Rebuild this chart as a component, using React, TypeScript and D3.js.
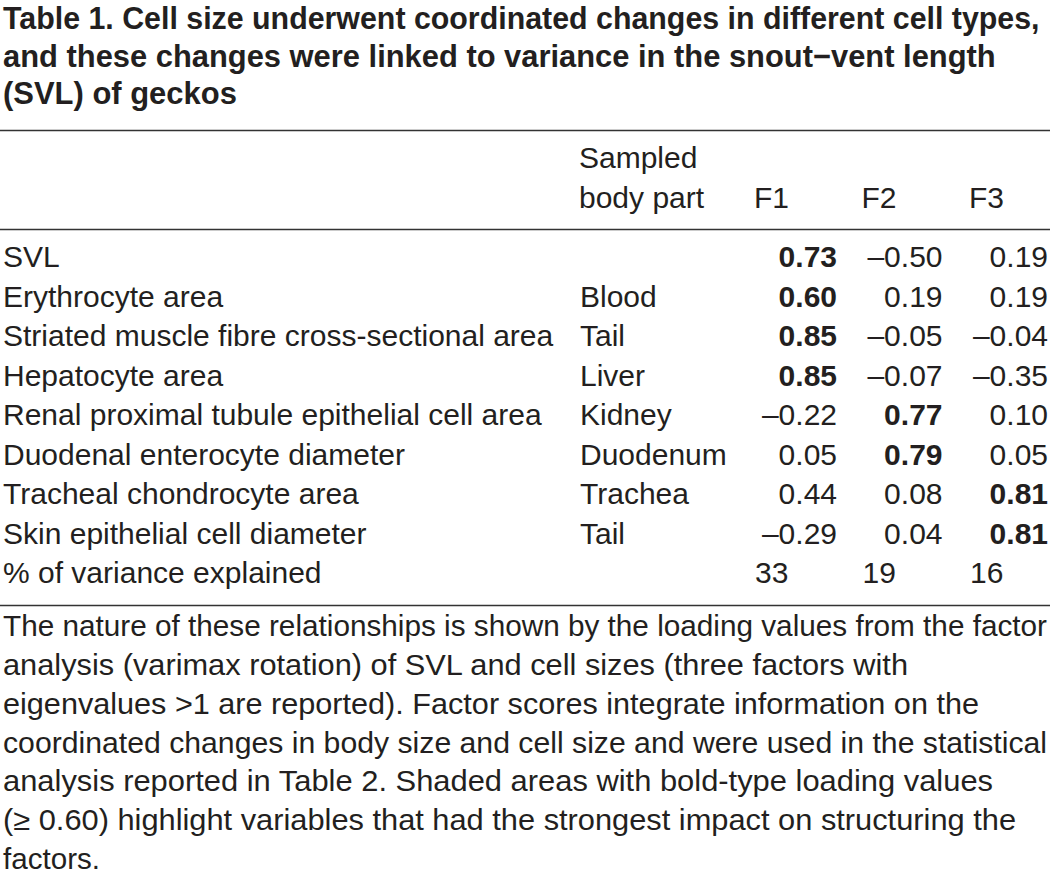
import React, { useLayoutEffect, useRef } from "react";
import * as d3 from "d3";

// ---- content ----
const titleLines = [
  "Table 1. Cell size underwent coordinated changes in different cell types,",
  "and these changes were linked to variance in the snout\u2212vent length",
  "(SVL) of geckos",
];
const titleWidths = [1037, 993, 234];

const headerBodyPart = ["Sampled", "body part"];
const factorNames = ["F1", "F2", "F3"];

const rowLabels = [
  "SVL",
  "Erythrocyte area",
  "Striated muscle fibre cross-sectional area",
  "Hepatocyte area",
  "Renal proximal tubule epithelial cell area",
  "Duodenal enterocyte diameter",
  "Tracheal chondrocyte area",
  "Skin epithelial cell diameter",
];
const bodyParts = ["", "Blood", "Tail", "Liver", "Kidney", "Duodenum", "Trachea", "Tail"];
const f1 = [0.73, 0.6, 0.85, 0.85, -0.22, 0.05, 0.44, -0.29];
const f2 = [-0.5, 0.19, -0.05, -0.07, 0.77, 0.79, 0.08, 0.04];
const f3 = [0.19, 0.19, -0.04, -0.35, 0.1, 0.05, 0.81, 0.81];
const varianceLabel = "% of variance explained";
const varianceExplained = [33, 19, 16];
const boldThreshold = 0.6;

const footnoteLines = [
  "The nature of these relationships is shown by the loading values from the factor",
  "analysis (varimax rotation) of SVL and cell sizes (three factors with",
  "eigenvalues >1 are reported). Factor scores integrate information on the",
  "coordinated changes in body size and cell size and were used in the statistical",
  "analysis reported in Table 2. Shaded areas with bold-type loading values",
  "(\u2265 0.60) highlight variables that had the strongest impact on structuring the",
  "factors.",
];
const footnoteWidths = [1044, 905, 976, 1044, 990, 1013, 97];

// ---- layout ----
const W = 1052;
const H = 878;
const FONT = "'Liberation Sans', Arial, Helvetica, sans-serif";
const INK = "#231f20";

const fmt = (v: number) => (v < 0 ? "\u2013" + Math.abs(v).toFixed(2) : v.toFixed(2));

export default function App() {
  const titleRef = useRef<SVGGElement | null>(null);
  const factors = [f1, f2, f3];
  const rowY = d3.scaleLinear().domain([0, rowLabels.length]).range([267, 583]);
  const valueRight = d3.scalePoint<string>().domain(factorNames).range([837, 1048]);
  const headerLeft = d3.scalePoint<string>().domain(factorNames).range([754, 969]);
  const titleY = d3.scaleLinear().domain([0, 2]).range([29, 104]);
  const footY = d3.scaleLinear().domain([0, footnoteLines.length - 1]).range([636, 869]);
  const rules = [130.5, 229.5, 605.5];

  // condense the bold title horizontally to the widths seen in the reference
  useLayoutEffect(() => {
    if (!titleRef.current) return;
    d3.select(titleRef.current)
      .selectAll<SVGTextElement, unknown>("text")
      .each(function (_d, i) {
        const natural = this.getComputedTextLength();
        const sx = natural > 0 ? titleWidths[i] / natural : 1;
        d3.select(this).attr("transform", `translate(3,${titleY(i)}) scale(${sx},1)`);
      });
  });

  return (
    <svg
      width={W}
      height={H}
      viewBox={`0 0 ${W} ${H}`}
      style={{ position: "absolute", left: 0, top: 0, background: "#fff" }}
      fontFamily={FONT}
      fill={INK}
    >
      <rect width={W} height={H} fill="#fff" />
      <g ref={titleRef} fontSize={31.5} fontWeight="bold">
        {titleLines.map((t, i) => (
          <text key={"t" + i} x={0} y={0} transform={`translate(3,${titleY(i)})`}>
            {t}
          </text>
        ))}
      </g>

      {rules.map((y, i) => (
        <line key={"r" + i} x1={0} x2={1050} y1={y} y2={y} stroke="#333" strokeWidth={1.4} />
      ))}

      {/* header */}
      <g fontSize={30}>
        {headerBodyPart.map((t, i) => (
          <text key={"h" + i} x={579} y={168 + i * 40}>
            {t}
          </text>
        ))}
        {factorNames.map((f) => (
          <text key={f} x={headerLeft(f)} y={208}>
            {f}
          </text>
        ))}
      </g>

      {/* body */}
      <g fontSize={30}>
        {rowLabels.map((lab, i) => (
          <g key={"row" + i}>
            <text x={3} y={rowY(i)}>
              {lab}
            </text>
            <text x={580} y={rowY(i)}>
              {bodyParts[i]}
            </text>
            {factorNames.map((f, j) => {
              const v = factors[j][i];
              return (
                <text
                  key={f}
                  x={valueRight(f)}
                  y={rowY(i)}
                  textAnchor="end"
                  fontWeight={v >= boldThreshold ? "bold" : "normal"}
                >
                  {fmt(v)}
                </text>
              );
            })}
          </g>
        ))}
        <text x={3} y={rowY(rowLabels.length)}>
          {varianceLabel}
        </text>
        {factorNames.map((f, j) => (
          <text key={"v" + f} x={(headerLeft(f) as number) + 1} y={rowY(rowLabels.length)}>
            {varianceExplained[j]}
          </text>
        ))}
      </g>

      {/* footnote */}
      <g fontSize={29.5}>
        {footnoteLines.map((t, i) => (
          <text
            key={"f" + i}
            x={3}
            y={footY(i)}
            textLength={footnoteWidths[i]}
            lengthAdjust="spacingAndGlyphs"
          >
            {t}
          </text>
        ))}
      </g>
    </svg>
  );
}
